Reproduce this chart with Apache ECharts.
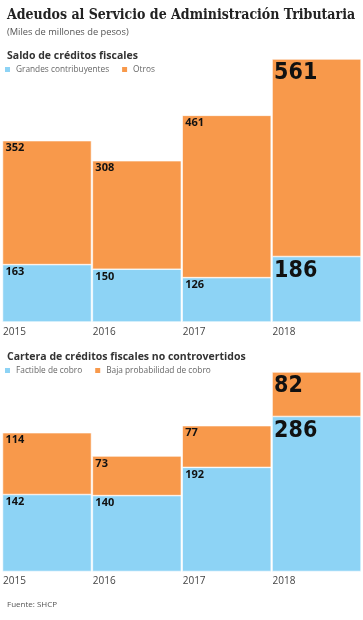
<!DOCTYPE html>
<html>
<head>
<meta charset="utf-8">
<script src="https://cdn.jsdelivr.net/npm/echarts@6/dist/echarts.min.js"></script>
<style>
html,body{margin:0;padding:0;background:#fff;}
#chart{width:363px;height:620px;}
</style>
</head>
<body>
<div id="chart"></div>
<script>
// ---- data ----
const categories = ['2015', '2016', '2017', '2018'];
// Saldo de créditos fiscales
const grandesContribuyentes = [163, 150, 126, 186];
const otros = [352, 308, 461, 561];
// Cartera de créditos fiscales no controvertidos
const factibleCobro = [142, 140, 192, 286];
const bajaProbabilidad = [114, 73, 77, 82];

const BLUE = '#8dd3f5';
const ORANGE = '#f8994b';
const SANS = '"Open Sans", Lato, sans-serif';
const NARROW = '"Liberation Sans Narrow", "DejaVu Sans Condensed", sans-serif';

function withLabels(values) {
  return values.map(function (v, i) {
    if (i === values.length - 1) {
      return {
        value: v,
        label: { fontFamily: NARROW, fontSize: 23, fontWeight: 'bold', position: [2, 3] }
      };
    }
    return v;
  });
}

const smallLabel = {
  show: true,
  position: [3, 2],
  color: '#111',
  fontFamily: SANS,
  fontWeight: 'bold',
  fontSize: 11
};

function barSeries(name, values, color, idx, stack) {
  return {
    name: name,
    type: 'bar',
    stack: stack,
    xAxisIndex: idx,
    yAxisIndex: idx,
    barCategoryGap: '1%',
    itemStyle: { color: color, borderColor: '#fff', borderWidth: 0.6 },
    label: smallLabel,
    silent: true,
    animation: false,
    data: withLabels(values)
  };
}

const xAxisCommon = {
  type: 'category',
  data: categories,
  axisLine: { show: false },
  axisTick: { show: false },
  axisLabel: {
    margin: 5,
    formatter: function (v) { return '{a|' + v + '}'; },
    rich: { a: { width: 88, align: 'left', color: '#444', fontFamily: SANS, fontSize: 10 } }
  }
};

const chart = echarts.init(document.getElementById('chart'), null, { renderer: 'canvas' });
chart.setOption({
  backgroundColor: '#fff',
  animation: false,
  title: [
    { text: 'Adeudos al Servicio de Administración Tributaria', left: 2, top: 3,
      textStyle: { fontFamily: '"DejaVu Serif Condensed", "DejaVu Serif", serif', fontWeight: 'bold', fontSize: 14, color: '#222' } },
    { text: '(Miles de millones de pesos)', left: 2, top: 23,
      textStyle: { fontFamily: SANS, fontWeight: 'normal', fontSize: 9.3, color: '#555' } },
    { text: 'Saldo de créditos fiscales', left: 2, top: 46,
      textStyle: { fontFamily: SANS, fontWeight: 'bold', fontSize: 10.5, color: '#333' } },
    { text: 'Cartera de créditos fiscales no controvertidos', left: 2, top: 347,
      textStyle: { fontFamily: SANS, fontWeight: 'bold', fontSize: 10.5, color: '#333' } },
    { text: 'Fuente: SHCP', left: 2, top: 596,
      textStyle: { fontFamily: SANS, fontWeight: 'normal', fontSize: 8, color: '#555' } }
  ],
  legend: [
    { left: 3, top: 65, icon: 'rect', itemWidth: 7, itemHeight: 7, itemGap: 11, padding: 0,
      data: ['Grandes contribuyentes', 'Otros'],
      textStyle: { fontFamily: SANS, fontSize: 8.3, color: '#666' } },
    { left: 3, top: 366, icon: 'rect', itemWidth: 7, itemHeight: 7, itemGap: 11, padding: 0,
      data: ['Factible de cobro', 'Baja probabilidad de cobro'],
      textStyle: { fontFamily: SANS, fontSize: 8.3, color: '#666' } }
  ],
  grid: [
    { left: 2, right: 1.5, top: 59, height: 263 },
    { left: 2, right: 1.5, top: 372, height: 199.5 }
  ],
  xAxis: [
    Object.assign({ gridIndex: 0 }, xAxisCommon),
    Object.assign({ gridIndex: 1 }, xAxisCommon)
  ],
  yAxis: [
    { type: 'value', gridIndex: 0, min: 0, max: 747, show: false, splitLine: { show: false } },
    { type: 'value', gridIndex: 1, min: 0, max: 368, show: false, splitLine: { show: false } }
  ],
  series: [
    barSeries('Grandes contribuyentes', grandesContribuyentes, BLUE, 0, 'a'),
    barSeries('Otros', otros, ORANGE, 0, 'a'),
    barSeries('Factible de cobro', factibleCobro, BLUE, 1, 'b'),
    barSeries('Baja probabilidad de cobro', bajaProbabilidad, ORANGE, 1, 'b')
  ]
});
</script>
</body>
</html>
